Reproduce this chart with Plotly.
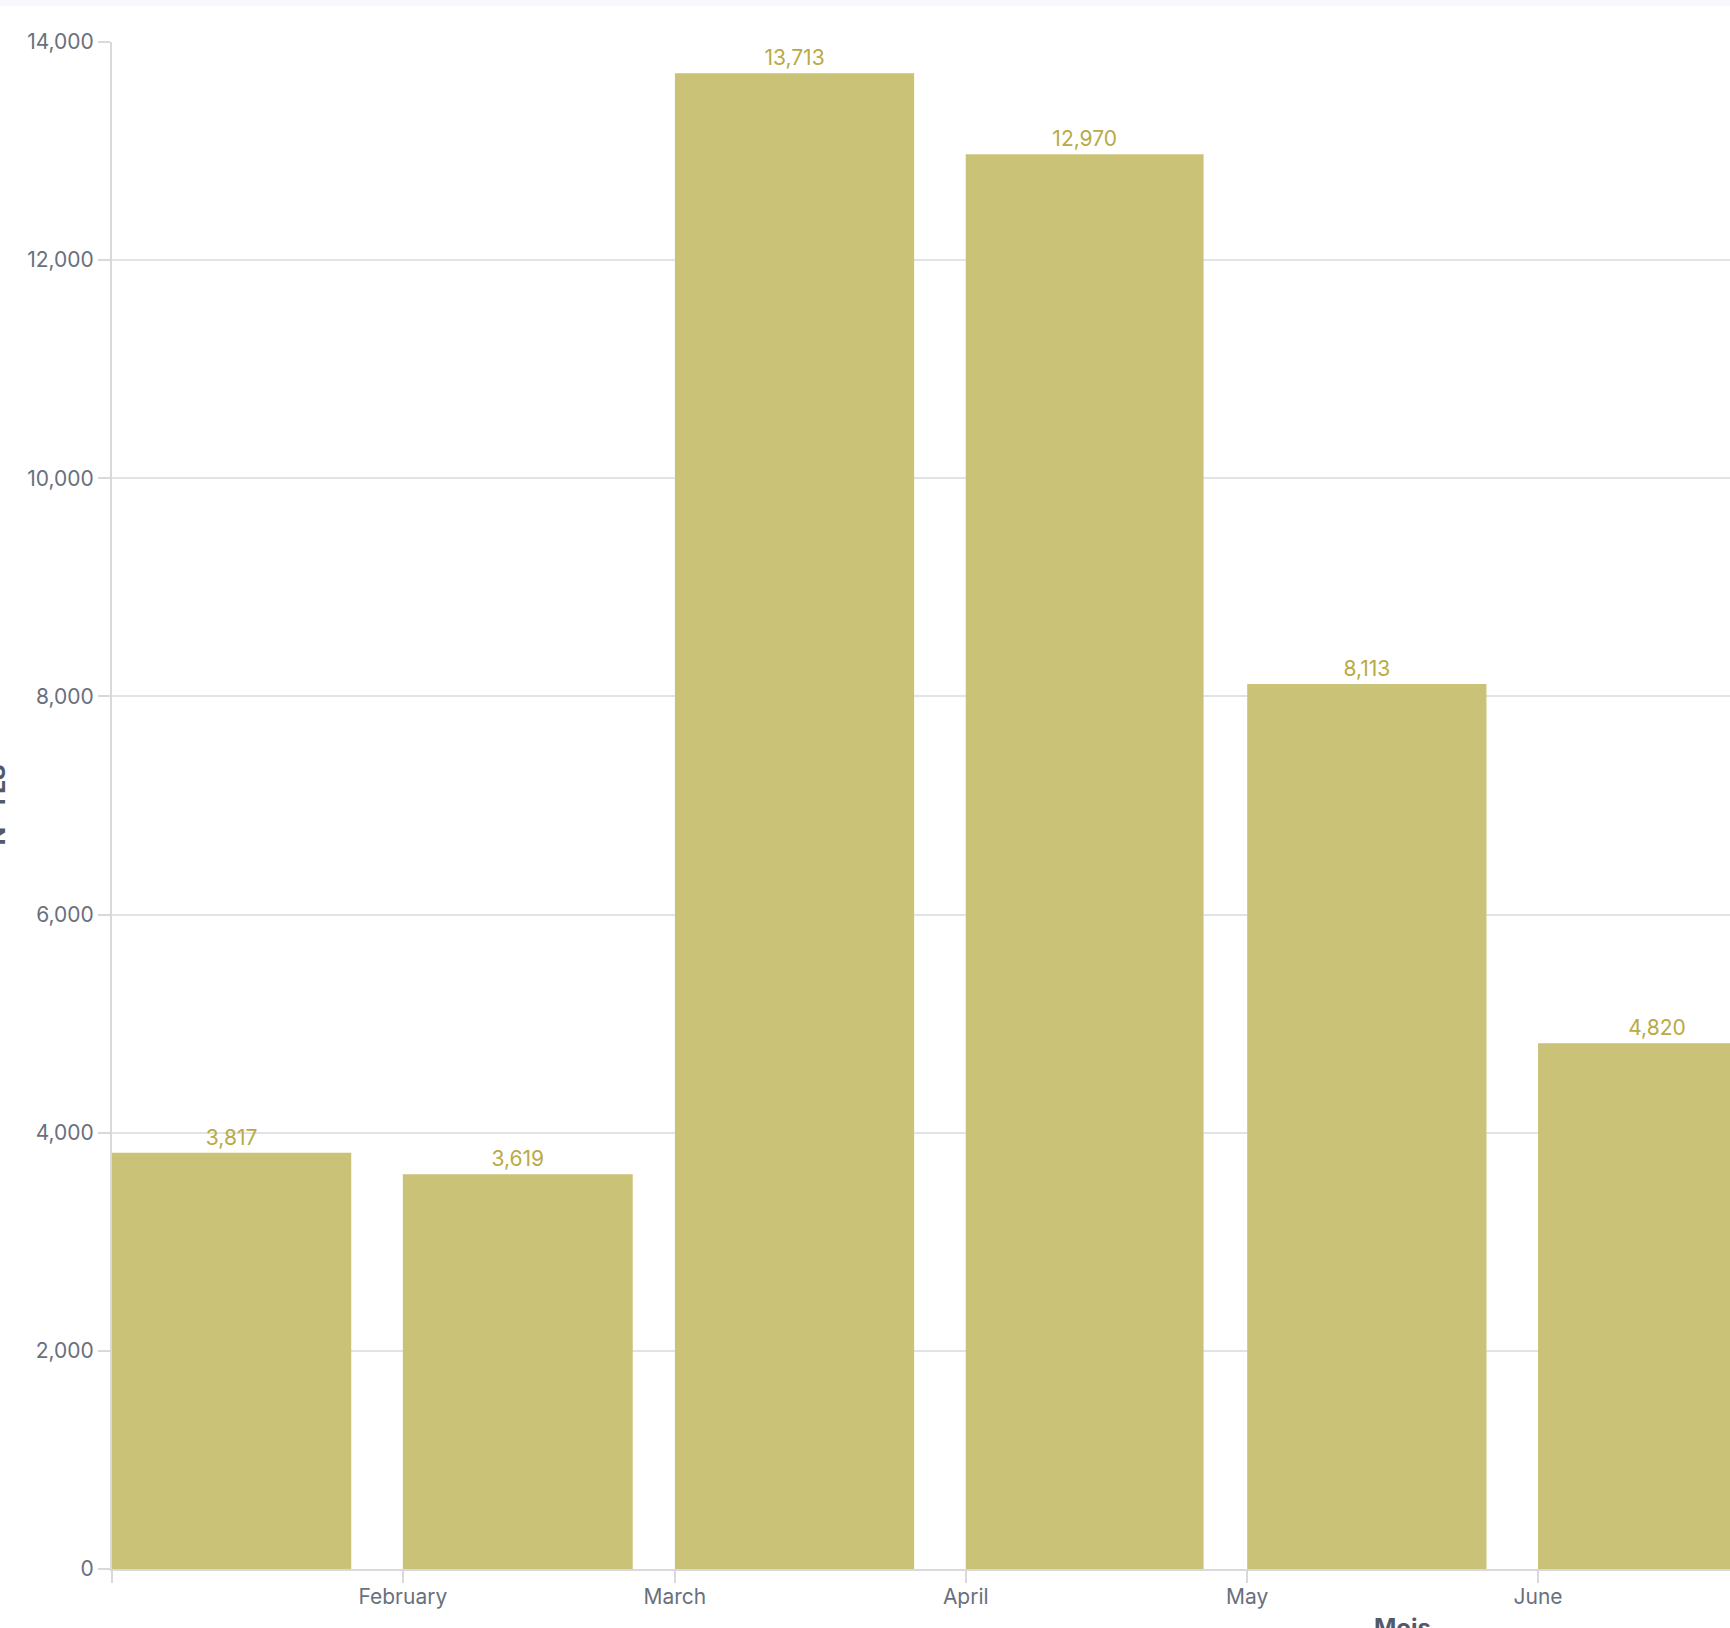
import plotly.graph_objects as go
import pandas as pd

# ---- data ----
months = ["2024-01-01", "2024-02-01", "2024-03-01", "2024-04-01", "2024-05-01", "2024-06-01"]
values = [3817, 3619, 13713, 12970, 8113, 4820]
tick_labels = ["", "February", "March", "April", "May", "June"]
y_ticks = [0, 2000, 4000, 6000, 8000, 10000, 12000, 14000]

# ---- layout constants ----
W, H = 1730, 1628
ML, MR, MT, MB = 112, 0, 42, 59
PW, PH = W - ML - MR, H - MT - MB

starts = pd.to_datetime(months)
nexts = list(starts[1:]) + [starts[-1] + pd.offsets.MonthBegin(1)]
DAY_MS = 86400000
widths = []
for s, n in zip(starts, nexts):
    d = (n - s).days
    widths.append(min(25.5, 0.845 * d) * DAY_MS)

x_end = starts[0] + pd.Timedelta(days=172.46)

BAR = "#cac277"
LABEL = "#b9aa45"
TICK = "#69707d"
TITLE = "#535966"
GRID = "#e2e3e8"
AXIS = "#d8d9dc"
FONT = "Inter"

fig = go.Figure()
fig.add_trace(go.Bar(
    x=months, y=values, width=widths, offset=0,
    marker=dict(color=BAR, line=dict(width=0)),
    texttemplate="%{y:,}", textposition="outside",
    outsidetextfont=dict(family=FONT, size=21, color=LABEL),
    cliponaxis=False, hoverinfo="skip",
))

fig.update_layout(
    width=W, height=H,
    margin=dict(l=ML, r=MR, t=MT, b=MB, pad=0),
    paper_bgcolor="white", plot_bgcolor="white",
    font=dict(family=FONT, size=21, color=TICK),
    showlegend=False,
    xaxis=dict(
        type="date", range=[starts[0], x_end],
        tickmode="array", tickvals=months, ticktext=tick_labels,
        ticks="outside", ticklen=12, tickwidth=2, tickcolor=AXIS,
        ticklabelstandoff=-4,
        showline=True, linecolor=AXIS, linewidth=2,
        showgrid=False, zeroline=False,
        tickfont=dict(family=FONT, size=21, color=TICK),
    ),
    yaxis=dict(
        range=[0, 14000], tickmode="array", tickvals=y_ticks,
        tickformat=",d",
        ticks="outside", ticklen=12, tickwidth=2, tickcolor=AXIS,
        showline=True, linecolor=AXIS, linewidth=2,
        showgrid=True, gridcolor=GRID, gridwidth=2, zeroline=False,
        tickfont=dict(family=FONT, size=21, color=TICK),
    ),
)

def px_x(p):
    return (p - ML) / PW

def px_y(p):
    return (MT + PH - p) / PH

# top band
fig.add_shape(type="rect", xref="paper", yref="paper",
              x0=px_x(0), x1=px_x(W), y0=px_y(6), y1=px_y(0),
              fillcolor="#f7f8fb", line=dict(width=0), layer="above")

# axis titles (partially cut off at the page edges, as in the reference)
fig.add_annotation(text="<b>Mois</b>", xref="paper", yref="paper",
                   x=px_x(1402), y=px_y(1611), xanchor="center", yanchor="top",
                   showarrow=False, font=dict(family=FONT, size=24, color=TITLE))
fig.add_annotation(text="<b>Nº TLS</b>", xref="paper", yref="paper",
                   x=px_x(-3.7), y=px_y(805), xanchor="center", yanchor="middle",
                   textangle=-90, showarrow=False,
                   font=dict(family=FONT, size=24, color=TITLE))

fig.write_html(
    "out.html",
    config={"displayModeBar": False},
    post_script="document.body.style.margin='0';document.body.style.overflow='hidden';",
)
